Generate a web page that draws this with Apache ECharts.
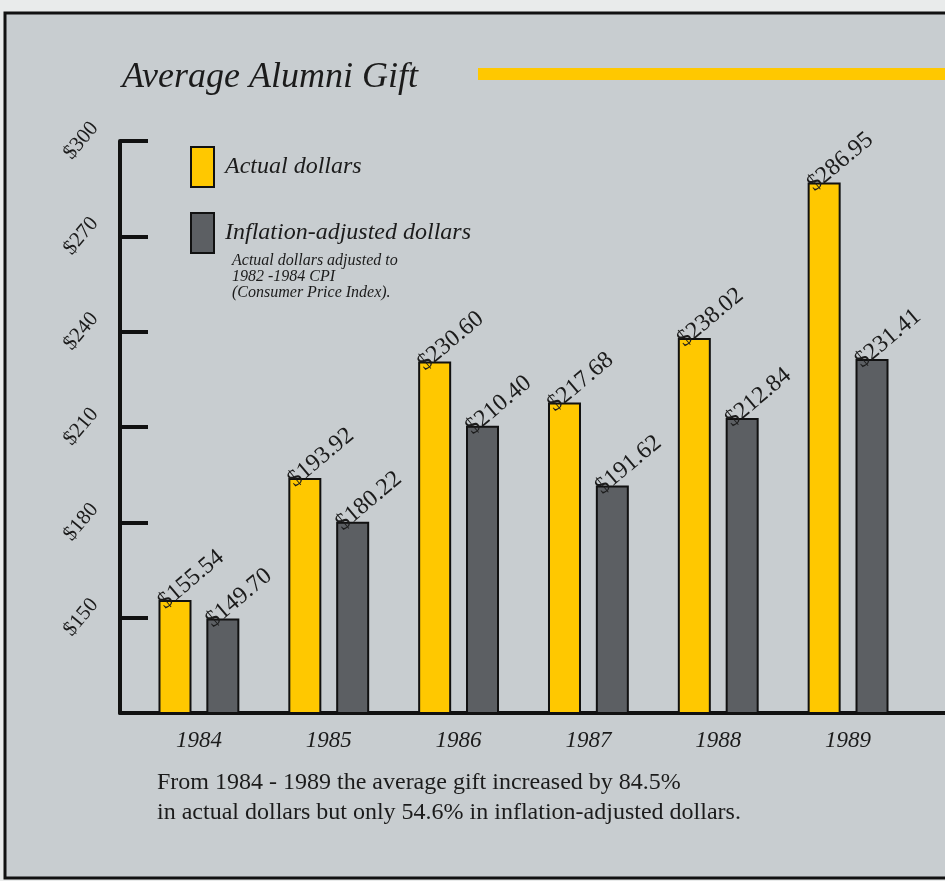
<!DOCTYPE html>
<html>
<head>
<meta charset="utf-8">
<script src="https://cdn.jsdelivr.net/npm/echarts@6/dist/echarts.min.js"></script>
<style>
  html, body { margin: 0; padding: 0; background: #e9ebeb; }
  #chart { width: 945px; height: 881px; }
</style>
</head>
<body>
<div id="chart"></div>
<script>
// data
const years = ["1984", "1985", "1986", "1987", "1988", "1989"];
const actualDollars = [155.54, 193.92, 230.6, 217.68, 238.02, 286.95];
const adjustedDollars = [149.7, 180.22, 210.4, 191.62, 212.84, 231.41];
const yTicks = [150, 180, 210, 240, 270, 300];

const serif = "'Liberation Serif', 'DejaVu Serif', serif";
const ink = "#1b1b1b";

const chart = echarts.init(document.getElementById("chart"));

// label on top of each bar, tilted
const barLabel = {
  show: true,
  position: "top",
  rotate: 40,
  align: "left",
  verticalAlign: "middle",
  distance: 7,
  offset: [-18, 0],
  fontFamily: serif,
  fontSize: 24,
  color: ink,
  formatter: (p) => "$" + p.value.toFixed(2),
};

const option = {
  backgroundColor: "#e9ebeb",
  animation: false,
  graphic: [
    // panel + frame
    {
      type: "rect",
      z: -10,
      shape: { x: 5, y: 13, width: 960, height: 865 },
      style: { fill: "#c8cdd0", stroke: "#111", lineWidth: 3 },
    },
    // yellow rule next to the title
    {
      type: "rect",
      shape: { x: 478, y: 68, width: 470, height: 12 },
      style: { fill: "#ffc800" },
    },
  ],
  title: [
    {
      text: "Average Alumni Gift",
      left: 117,
      top: 55,
      textStyle: { fontFamily: serif, fontStyle: "italic", fontWeight: "normal", fontSize: 36, color: ink },
    },
    {
      text: "Actual dollars adjusted to\n1982 -1984 CPI\n(Consumer Price Index).",
      left: 227,
      top: 248,
      textStyle: { fontFamily: serif, fontStyle: "italic", fontWeight: "normal", fontSize: 16, lineHeight: 16, color: ink },
    },
    {
      text: "From 1984 - 1989 the average gift increased by 84.5%\nin actual dollars but only 54.6% in inflation-adjusted dollars.",
      left: 152,
      top: 763,
      textStyle: { fontFamily: serif, fontWeight: "normal", fontSize: 24, lineHeight: 30, color: ink },
    },
  ],
  legend: {
    orient: "vertical",
    left: 185,
    top: 141,
    icon: "rect",
    itemWidth: 23,
    itemHeight: 40,
    itemGap: 24,
    textStyle: { fontFamily: serif, fontStyle: "italic", fontSize: 24, color: ink, padding: [12, 0, 0, 6] },
    data: ["Actual dollars", "Inflation-adjusted dollars"],
  },
  grid: [
    // bars
    { left: 134, right: 32, top: 141, bottom: 168 },
    // axes frame
    { left: 120, right: 0, top: 141, bottom: 168 },
  ],
  xAxis: [
    {
      type: "category",
      gridIndex: 0,
      data: years,
      axisLine: { show: false },
      axisTick: { show: false },
      axisLabel: { fontFamily: serif, fontStyle: "italic", fontSize: 23, color: ink, margin: 16 },
    },
    {
      type: "value",
      gridIndex: 1,
      min: 0,
      max: 1,
      axisLine: { show: true, lineStyle: { color: "#111", width: 4 } },
      axisTick: { show: false },
      axisLabel: { show: false },
      splitLine: { show: false },
    },
  ],
  yAxis: [
    { type: "value", gridIndex: 0, min: 120, max: 300, show: false },
    {
      type: "value",
      gridIndex: 1,
      min: 120,
      max: 300,
      interval: 30,
      axisLine: { show: true, lineStyle: { color: "#111", width: 4 } },
      axisTick: { show: true, inside: true, length: 28, lineStyle: { color: "#111", width: 4 } },
      splitLine: { show: false },
      axisLabel: {
        rotate: 50,
        margin: 6,
        verticalAlign: "bottom",
        padding: [0, 0, 15, 0],
        fontFamily: serif,
        fontSize: 21,
        color: ink,
        formatter: (v) => (yTicks.includes(v) ? "$" + v : ""),
      },
    },
  ],
  series: [
    {
      name: "Actual dollars",
      type: "bar",
      xAxisIndex: 0,
      yAxisIndex: 0,
      data: actualDollars,
      barWidth: 33,
      barGap: "45%",
      itemStyle: { color: "#ffc800", borderColor: "#111", borderWidth: 2 },
      label: barLabel,
    },
    {
      name: "Inflation-adjusted dollars",
      type: "bar",
      xAxisIndex: 0,
      yAxisIndex: 0,
      data: adjustedDollars,
      barWidth: 33,
      itemStyle: { color: "#5c5f63", borderColor: "#111", borderWidth: 2 },
      label: barLabel,
    },
  ],
};

chart.setOption(option);
</script>
</body>
</html>
